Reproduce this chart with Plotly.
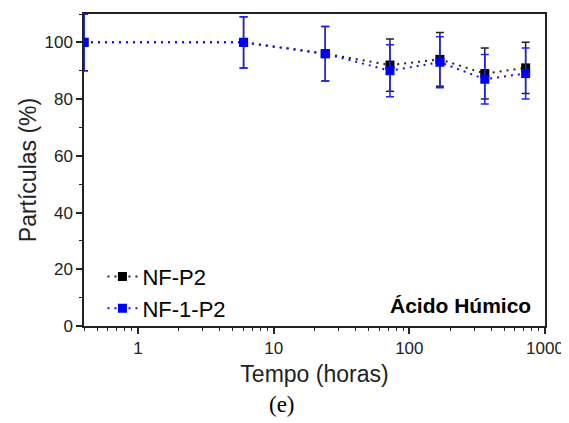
import plotly.graph_objects as go

# tempo (horas) e partículas (%)
tempo = [0.4, 6, 24, 72, 168, 360, 720]
nf_p2 = [100, 100, 96, 92, 94, 89, 91]
nf_p2_err = [10, 9, 9.6, 9.2, 9.5, 9, 9]
nf1_p2 = [100, 100, 96, 90, 93, 87, 89]
nf1_p2_err = [10, 9, 9.6, 9.2, 9, 8.7, 9]

# ticks menores do eixo log (2..9 em cada década)
minor_x = [m * 10 ** d for d in range(-1, 3) for m in range(2, 10)]

fig = go.Figure()

fig.add_trace(go.Scatter(
    x=tempo, y=nf_p2, name='NF-P2', mode='lines+markers',
    line=dict(color='#222222', width=2, dash='2px,5px'),
    marker=dict(symbol='square', size=9, color='black'),
    error_y=dict(type='data', array=nf_p2_err, color='#222222', thickness=1.5, width=4),
))
fig.add_trace(go.Scatter(
    x=tempo, y=nf1_p2, name='NF-1-P2', mode='lines+markers',
    line=dict(color='#1010ff', width=2, dash='2px,5px'),
    marker=dict(symbol='square', size=9, color='#0000ff'),
    error_y=dict(type='data', array=nf1_p2_err, color='#2020ff', thickness=1.5, width=4),
))

fig.add_annotation(
    text='<b>Ácido Húmico</b>', xref='paper', yref='paper', x=0.975, y=0.067,
    xanchor='right', yanchor='middle', showarrow=False,
    font=dict(family='Liberation Sans, Arial', size=21, color='black'),
)
fig.add_annotation(
    text='(e)', xref='paper', yref='paper', x=0.43, y=-0.253,
    xanchor='center', yanchor='middle', showarrow=False,
    font=dict(family='Liberation Serif, Times New Roman', size=23, color='black'),
)

fig.update_layout(
    width=561, height=415,
    margin=dict(l=76, r=24, t=6, b=97, autoexpand=False),
    paper_bgcolor='white', plot_bgcolor='white',
    font=dict(family='Liberation Sans, Arial', size=17, color='#222222'),
    showlegend=True,
    legend=dict(x=0.04, y=-0.012, xanchor='left', yanchor='bottom',
                bgcolor='rgba(0,0,0,0)', font=dict(size=22, color='black'),
                tracegroupgap=0),
)
fig.update_xaxes(
    type='log', range=[-0.398, 3], automargin=False,
    tickvals=[1, 10, 100, 1000], ticktext=['1', '10', '100', '1000'],
    ticks='outside', ticklen=6, tickwidth=1.5, tickcolor='#222222',
    minor=dict(tickvals=minor_x, ticks='outside', ticklen=3, tickwidth=1,
               tickcolor='#222222', showgrid=False),
    showline=True, linecolor='#222222', linewidth=1.5, mirror=True,
    showgrid=False, zeroline=False,
    title=dict(text='Tempo (horas)', font=dict(size=23), standoff=9),
)
fig.update_yaxes(
    range=[0, 110], tickvals=[0, 20, 40, 60, 80, 100], automargin=False,
    ticks='outside', ticklen=6, tickwidth=1.5, tickcolor='#222222',
    minor=dict(dtick=10, ticks='outside', ticklen=3, tickwidth=1, tickcolor='#222222', showgrid=False),
    showline=True, linecolor='#222222', linewidth=1.5, mirror=True,
    showgrid=False, zeroline=False,
    title=dict(text='Partículas (%)', font=dict(size=23), standoff=1),
)

fig.write_html('out.html')
